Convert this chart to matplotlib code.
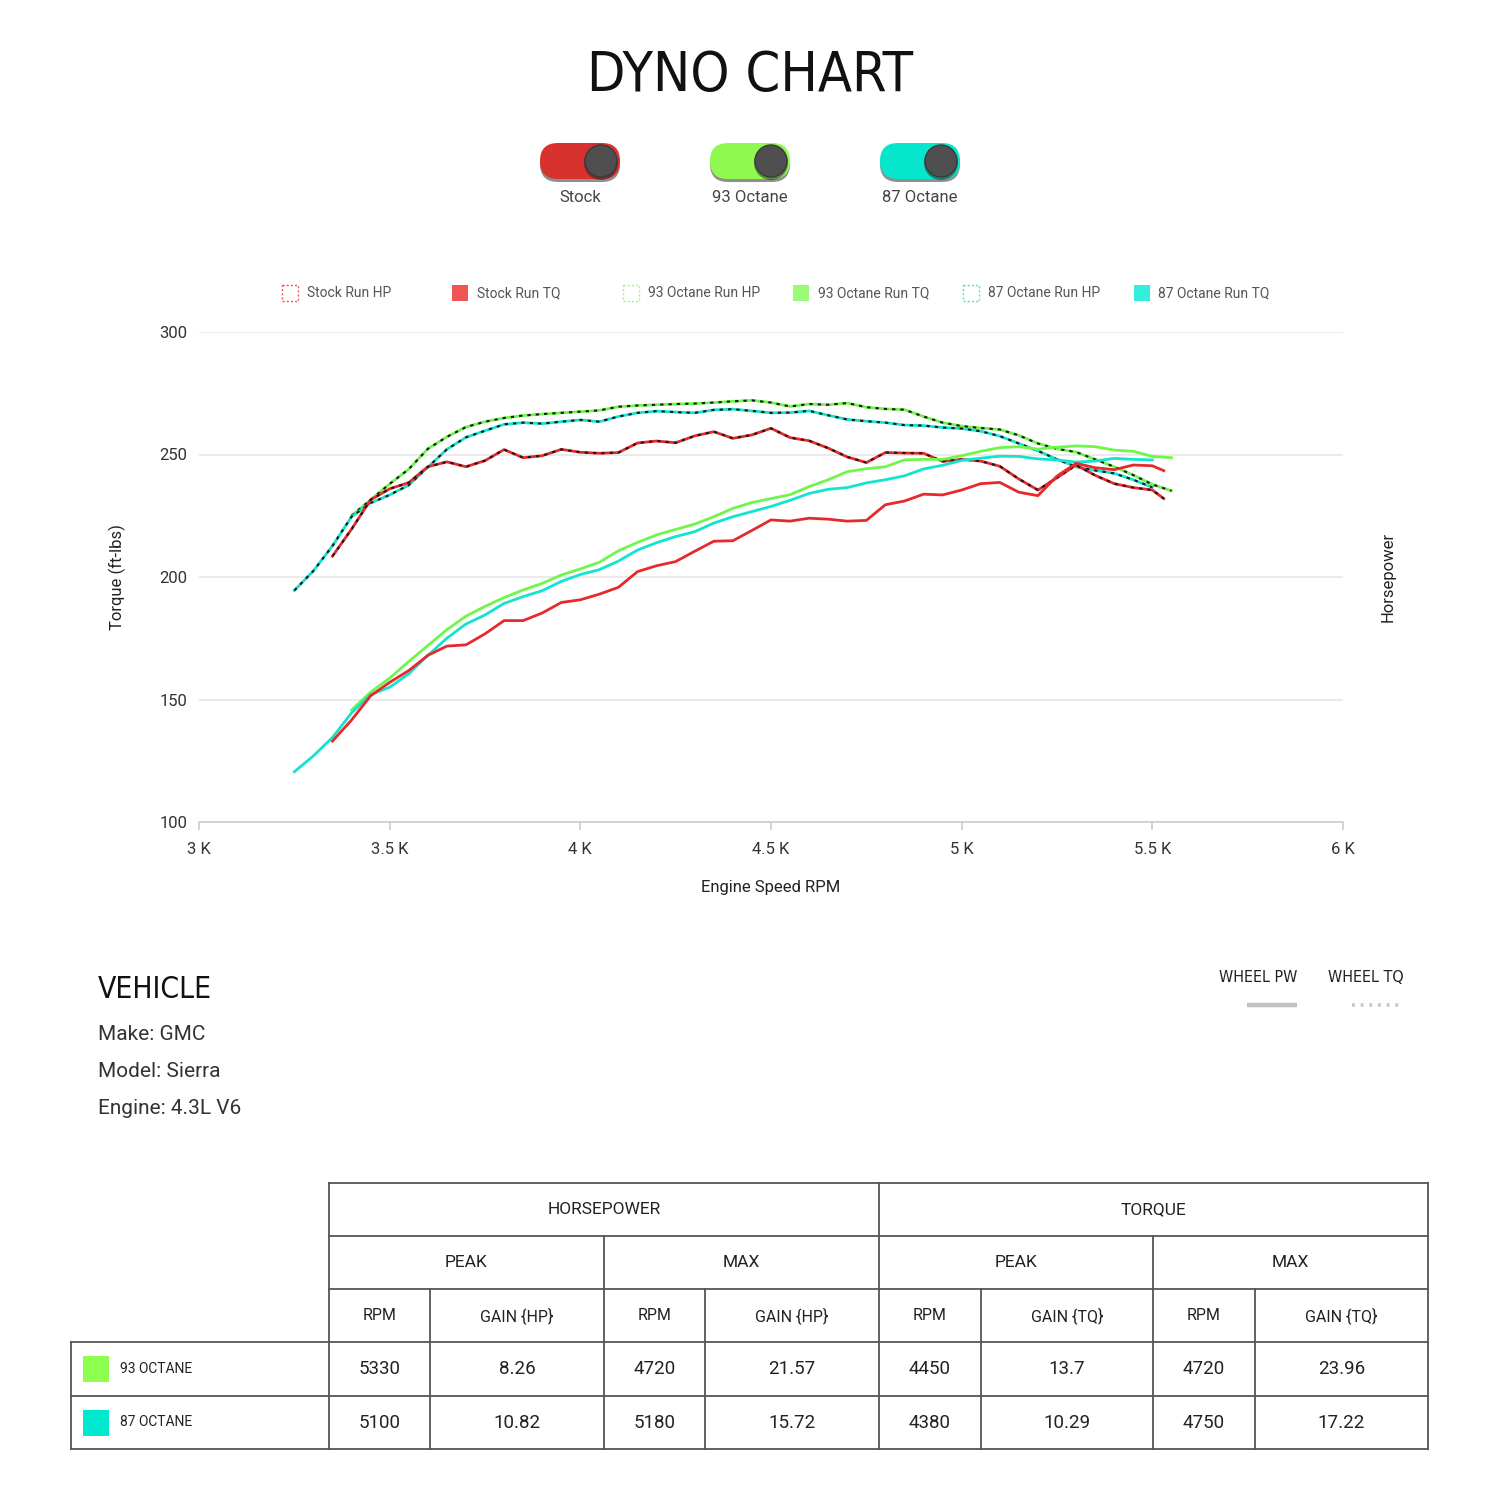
import matplotlib
matplotlib.use('Agg')
import matplotlib.pyplot as plt
from matplotlib.patches import FancyBboxPatch, Circle, Rectangle

plt.rcParams['font.family'] = ['Roboto', 'DejaVu Sans']
NARROW = ['Liberation Sans Narrow', 'DejaVu Sans']

# dyno runs (rpm, wheel hp, wheel torque)
rpm_stock = [3350, 3400, 3450, 3500, 3550, 3600, 3650, 3700, 3750, 3800, 3850, 3900,
             3950, 4000, 4050, 4100, 4150, 4200, 4250, 4300, 4350, 4400, 4450, 4500,
             4550, 4600, 4650, 4700, 4750, 4800, 4850, 4900, 4950, 5000, 5050, 5100,
             5150, 5200, 5250, 5300, 5350, 5400, 5450, 5500, 5530]
hp_stock = [133, 141.6, 151.5, 157, 161.8, 168, 171.8, 172.3, 176.8, 182.2, 182.2, 185.3,
            189.6, 190.7, 193, 195.8, 202.2, 204.6, 206.3, 210.5, 214.6, 214.8, 219, 223.3,
            222.8, 224, 223.6, 222.8, 223.1, 229.5, 231, 233.8, 233.5, 235.5, 238.1, 238.6,
            234.6, 233.2, 241.2, 246.4, 244.6, 243.8, 245.7, 245.4, 243.4]
tq_stock = [208.5, 219.5, 231.5, 236, 238.5, 245, 247, 245, 247.5, 252, 248.7, 249.5,
            252.1, 250.9, 250.5, 250.8, 254.7, 255.5, 254.8, 257.6, 259.3, 256.6, 258, 260.7,
            256.9, 255.6, 252.6, 249, 246.7, 250.8, 250.6, 250.5, 247.2, 248, 247.3, 245.2,
            240, 235.5, 240.5, 245.7, 241.5, 238.1, 236.5, 235.5, 232]

rpm_93 = [3400, 3450, 3500, 3550, 3600, 3650, 3700, 3750, 3800, 3850, 3900, 3950,
          4000, 4050, 4100, 4150, 4200, 4250, 4300, 4350, 4400, 4450, 4500, 4550,
          4600, 4650, 4700, 4750, 4800, 4850, 4900, 4950, 5000, 5050, 5100, 5150,
          5200, 5250, 5300, 5350, 5400, 5450, 5500, 5550]
hp_93 = [145.7, 153, 158.7, 165.5, 172, 178.5, 184, 188, 191.6, 194.7, 197.4, 200.8,
         203.3, 206, 210.7, 214.1, 217.2, 219.4, 221.6, 224.6, 228, 230.4, 232, 233.6,
         236.9, 239.7, 243, 244.2, 245, 247.8, 248, 248, 249.5, 251.3, 252.8, 253.2,
         252.2, 253, 253.5, 253.2, 251.8, 251.3, 249.2, 248.7]
tq_93 = [225, 231.5, 238, 244, 252.3, 257.2, 261.2, 263.4, 264.9, 265.9, 266.5, 267,
         267.5, 268, 269.5, 270, 270.3, 270.6, 270.8, 271.2, 271.7, 272.1, 271.2, 269.6,
         270.6, 270.3, 271, 269.3, 268.6, 268.3, 265.5, 263, 261.6, 260.8, 260.2, 257.8,
         254.5, 252.3, 251, 248, 245, 241.6, 237.8, 235.2]

rpm_87 = [3250, 3300, 3350, 3400, 3450, 3500, 3550, 3600, 3650, 3700, 3750, 3800,
          3850, 3900, 3950, 4000, 4050, 4100, 4150, 4200, 4250, 4300, 4350, 4400,
          4450, 4500, 4550, 4600, 4650, 4700, 4750, 4800, 4850, 4900, 4950, 5000,
          5050, 5100, 5150, 5200, 5250, 5300, 5350, 5400, 5450, 5500]
hp_87 = [120.5, 127, 134.5, 144.5, 152, 155, 160.5, 168, 175, 180.8, 184.5, 189.2,
         192, 194.4, 198.2, 201, 203, 206.5, 211, 214, 216.5, 218.5, 222, 224.6,
         226.7, 228.8, 231.3, 234.1, 235.8, 236.5, 238.4, 239.7, 241.3, 244.1, 245.6, 247.6,
         248.5, 249.3, 249.2, 248.2, 247.8, 246.9, 247.3, 248.4, 248, 247.8]
tq_87 = [194.5, 202.5, 212.7, 224.6, 230.2, 233.5, 237.5, 244.8, 252.1, 257, 259.7, 262.3,
         263, 262.6, 263.4, 264.1, 263.4, 265.5, 267, 267.7, 267.3, 267, 268.2, 268.5,
         267.8, 267, 267.1, 267.8, 266, 264.3, 263.6, 263, 262, 261.8, 261, 260.6,
         259.5, 257.5, 254.5, 251.5, 248, 245, 243.5, 242.3, 239.7, 236.6]

x_ticks = [3000, 3500, 4000, 4500, 5000, 5500, 6000]
x_tick_labels = ['3 K', '3.5 K', '4 K', '4.5 K', '5 K', '5.5 K', '6 K']
y_ticks = [100, 150, 200, 250, 300]

toggle_names = ['Stock', '93 Octane', '87 Octane']
legend_labels = ['Stock Run HP', 'Stock Run TQ', '93 Octane Run HP', '93 Octane Run TQ',
                 '87 Octane Run HP', '87 Octane Run TQ']

vehicle_info = ['Make: GMC', 'Model: Sierra', 'Engine: 4.3L V6']

table_rows = ['93 OCTANE', '87 OCTANE']
hp_peak_rpm = ['5330', '5100']
hp_peak_gain = ['8.26', '10.82']
hp_max_rpm = ['4720', '5180']
hp_max_gain = ['21.57', '15.72']
tq_peak_rpm = ['4450', '4380']
tq_peak_gain = ['13.7', '10.29']
tq_max_rpm = ['4720', '4750']
tq_max_gain = ['23.96', '17.22']

RED = '#e8292b'
GREEN = '#6ff64a'
CYAN = '#14e3cf'

fig = plt.figure(figsize=(15, 15), dpi=100)

# background axes in pixel coordinates for the decorations
bg = fig.add_axes([0, 0, 1, 1])
bg.set_xlim(0, 1500)
bg.set_ylim(1500, 0)
bg.axis('off')

bg.text(750, 76, 'DYNO CHART', ha='center', va='center', fontsize=40,
        family=NARROW, fontstretch='condensed', color='#111111')

# toggle switches
toggle_colors = ['#d8322e', '#8ff94f', '#05e6cc']
for i, (name, col) in enumerate(zip(toggle_names, toggle_colors)):
    cx = 580 + i * 170
    bg.add_patch(FancyBboxPatch((cx - 40, 146), 80, 36,
                                boxstyle='round,pad=0,rounding_size=18',
                                fc='#333333', ec='none', alpha=0.55))
    bg.add_patch(FancyBboxPatch((cx - 40, 143), 80, 36,
                                boxstyle='round,pad=0,rounding_size=18',
                                fc=col, ec='none'))
    bg.add_patch(Circle((cx + 21, 163), 17, fc='#222222', ec='none', alpha=0.5))
    bg.add_patch(Circle((cx + 21, 161), 16, fc='#4f4f4f', ec='#3a3a3a', lw=1))
    bg.text(cx, 198, name, ha='center', va='center', fontsize=12, color='#444444')

# legend row
leg_colors = ['#ee5555', '#ee5555', '#99fb77', '#99fb77', '#33eed8', '#33eed8']
for i, (lab, col) in enumerate(zip(legend_labels, leg_colors)):
    cx = 290 + i * 170.3
    if i % 2 == 0:
        bg.add_patch(Rectangle((cx - 8, 285), 16, 16, fc='none', ec=col,
                               lw=1, ls=(0, (1.5, 1.5))))
    else:
        bg.add_patch(Rectangle((cx - 8, 285), 16, 16, fc=col, ec='none'))
    bg.text(cx + 17, 293, lab, ha='left', va='center', fontsize=10, color='#555555')

# main chart
ax = fig.add_axes([199 / 1500, 1 - 822 / 1500, 1144 / 1500, 490 / 1500])
ax.set_facecolor('none')
ax2 = ax.twinx()

for rpm, hp, tq, col in [(rpm_93, hp_93, tq_93, GREEN),
                         (rpm_87, hp_87, tq_87, CYAN),
                         (rpm_stock, hp_stock, tq_stock, RED)]:
    ax2.plot(rpm, hp, color=col, lw=2.0, solid_joinstyle='round')
    ax.plot(rpm, tq, color=col, lw=2.0, solid_joinstyle='round')
    ax.plot(rpm, tq, color='#1a1a1a', lw=1.5, ls=(0, (1.6, 2.4)))

for a in (ax, ax2):
    a.set_xlim(3000, 6000)
    a.set_ylim(100, 300)
    for s in a.spines.values():
        s.set_visible(False)

ax.set_yticks(y_ticks)
ax.grid(axis='y', color='#e6e6e6', lw=1.2)
ax.set_axisbelow(True)
ax.spines['bottom'].set_visible(True)
ax.spines['bottom'].set_color('#cccccc')
ax.spines['bottom'].set_linewidth(1.2)
ax.set_xticks(x_ticks)
ax.set_xticklabels(x_tick_labels)
ax.tick_params(axis='x', length=6, width=1.2, color='#cccccc', pad=8.5,
               labelsize=12, labelcolor='#333333')
ax.tick_params(axis='y', length=0, pad=8.5, labelsize=12, labelcolor='#333333')
ax.set_xlabel('Engine Speed RPM', fontsize=12, color='#222222', labelpad=16.5)
ax.set_ylabel('Torque (ft-lbs)', fontsize=12, color='#222222', labelpad=24)
ax2.set_yticks([])
ax2.set_ylabel('Horsepower', fontsize=12, color='#222222', labelpad=27)

# vehicle block
bg.text(98, 990, 'VEHICLE', ha='left', va='center', fontsize=21.5,
        family=NARROW, fontstretch='condensed', color='#111111')
for i, line in enumerate(vehicle_info):
    bg.text(98, 1034 + i * 37.5, line, ha='left', va='center', fontsize=15,
            color='#333333')

bg.text(1258, 978, 'WHEEL PW', ha='center', va='center', fontsize=11.5,
        family=NARROW, fontstretch='condensed', color='#222222')
bg.plot([1247, 1297], [1005, 1005], color='#c2c2c2', lw=3.2, solid_capstyle='butt')
bg.text(1366, 978, 'WHEEL TQ', ha='center', va='center', fontsize=11.5,
        family=NARROW, fontstretch='condensed', color='#222222')
bg.plot([1352, 1404], [1005, 1005], color='#c8c8c8', lw=2.6, ls=(0, (0.8, 1.6)))

# summary table
xs = [329, 430, 604, 705, 879, 981, 1153, 1255, 1428]
ys = [1183, 1236, 1289, 1342, 1396, 1449]
lc = '#555555'
lw = 1.3
for y in ys[:3]:
    bg.plot([xs[0], xs[-1]], [y, y], color=lc, lw=lw)
for y in ys[3:]:
    bg.plot([71, xs[-1]], [y, y], color=lc, lw=lw)
bg.plot([71, 71], [ys[3], ys[5]], color=lc, lw=lw)
for x in (xs[0], xs[4], xs[8]):
    bg.plot([x, x], [ys[0], ys[5]], color=lc, lw=lw)
for x in (xs[2], xs[6]):
    bg.plot([x, x], [ys[1], ys[5]], color=lc, lw=lw)
for x in (xs[1], xs[3], xs[5], xs[7]):
    bg.plot([x, x], [ys[2], ys[5]], color=lc, lw=lw)

def mid(a, b):
    return (a + b) / 2

hdr = dict(ha='center', va='center', fontsize=12.5, color='#222222')
bg.text(mid(xs[0], xs[4]), mid(ys[0], ys[1]), 'HORSEPOWER', **hdr)
bg.text(mid(xs[4], xs[8]), mid(ys[0], ys[1]), 'TORQUE', **hdr)
for j, lab in enumerate(['PEAK', 'MAX', 'PEAK', 'MAX']):
    bg.text(mid(xs[2 * j], xs[2 * j + 2]), mid(ys[1], ys[2]), lab, **hdr)
sub = ['RPM', 'GAIN {HP}', 'RPM', 'GAIN {HP}', 'RPM', 'GAIN {TQ}', 'RPM', 'GAIN {TQ}']
for j, lab in enumerate(sub):
    bg.text(mid(xs[j], xs[j + 1]), mid(ys[2], ys[3]), lab,
            ha='center', va='center', fontsize=11.5, color='#222222')

swatch = ['#8fff4f', '#00e8cf']
cols = [hp_peak_rpm, hp_peak_gain, hp_max_rpm, hp_max_gain,
        tq_peak_rpm, tq_peak_gain, tq_max_rpm, tq_max_gain]
for r, name in enumerate(table_rows):
    yc = mid(ys[3 + r], ys[4 + r])
    bg.add_patch(Rectangle((83, yc - 13), 26, 26, fc=swatch[r], ec='none'))
    bg.text(120, yc, name, ha='left', va='center', fontsize=10, color='#222222')
    for j, col in enumerate(cols):
        bg.text(mid(xs[j], xs[j + 1]), yc, col[r], ha='center', va='center',
                fontsize=13.5, color='#222222')

fig.savefig('out.png', dpi=100)
